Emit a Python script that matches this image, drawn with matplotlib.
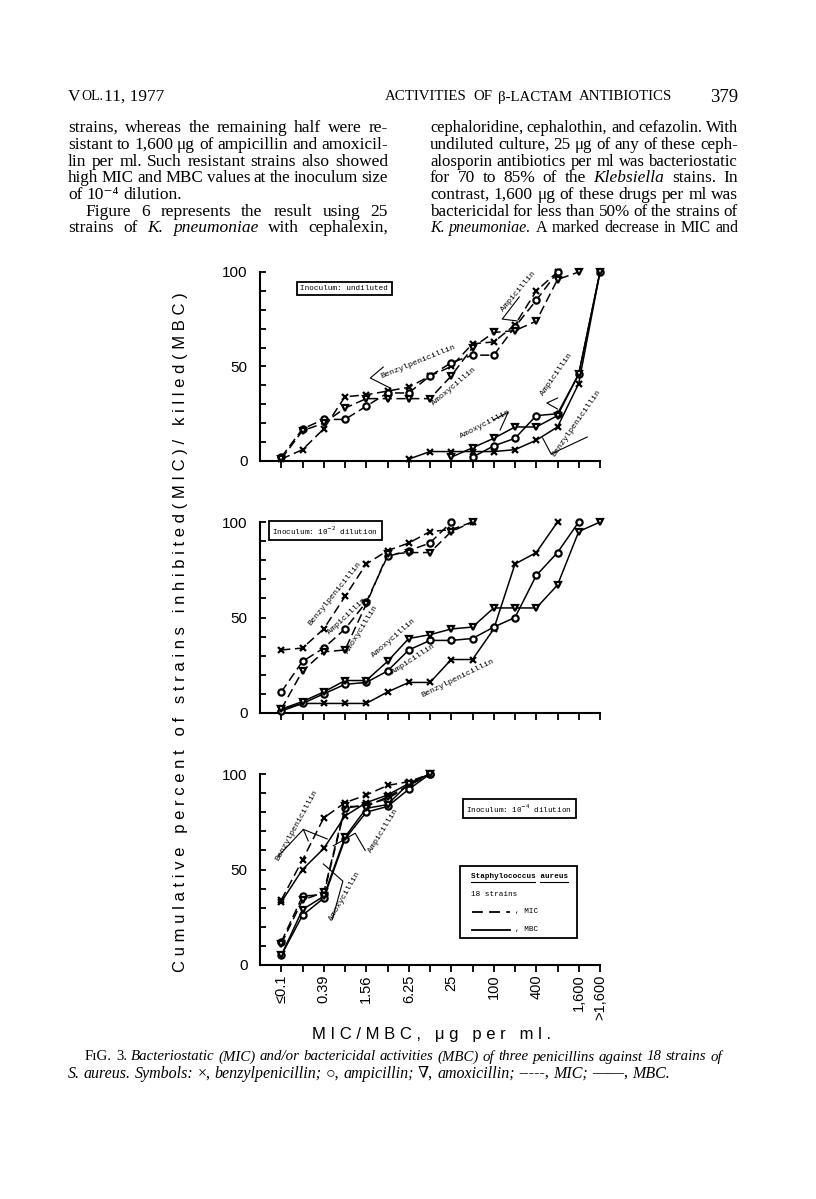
import numpy as np
import matplotlib.pyplot as plt
from matplotlib.lines import Line2D
from matplotlib.patches import Rectangle

# ---------------------------------------------------------
# data (cumulative % of 18 strains), index = concentration step
# ---------------------------------------------------------
nan = np.nan
conc_idx = np.arange(16)
tick_labels = ['\u22640.1', '', '0.39', '', '1.56', '', '6.25', '', '25', '',
               '100', '', '400', '', '1,600', '>1,600']

# undiluted
und_benzyl_mic = [1, 6, 17, 34, 35, 37, 39, 45, 50, 62, 63, 72, 90, 100, nan, nan]
und_ampi_mic = [2, 17, 22, 22, 29, 36, 36, 45, 52, 56, 56, 71, 85, 100, nan, nan]
und_amoxy_mic = [1, 16, 20, 28, 33, 33, 33, 33, 45, 60, 68, 69, 74, 96, 100, nan]
und_benzyl_mbc = [nan, nan, nan, nan, nan, nan, 1, 5, 5, 5, 5, 6, 11, 18, 41, 100]
und_ampi_mbc = [nan, nan, nan, nan, nan, nan, nan, nan, nan, 2, 8, 12, 24, 25, 46, 100]
und_amoxy_mbc = [nan, nan, nan, nan, nan, nan, nan, nan, 2, 7, 12, 18, 18, 24, 46, 100]

# 10^-2 dilution
d2_benzyl_mic = [33, 34, 44, 61, 78, 85, 89, 95, 96, 100, nan, nan, nan, nan, nan, nan]
d2_ampi_mic = [11, 27, 34, 44, 58, 82, 85, 89, 100, nan, nan, nan, nan, nan, nan, nan]
d2_amoxy_mic = [2, 22, 32, 33, 57, 83, 84, 84, 95, 100, nan, nan, nan, nan, nan, nan]
d2_benzyl_mbc = [2, 5, 5, 5, 5, 11, 16, 16, 28, 28, 44, 78, 84, 100, nan, nan]
d2_ampi_mbc = [1, 5, 10, 15, 16, 22, 33, 38, 38, 39, 45, 50, 72, 84, 100, nan]
d2_amoxy_mbc = [2, 6, 11, 17, 17, 27, 39, 41, 44, 45, 55, 55, 55, 67, 95, 100]

# 10^-4 dilution
d4_benzyl_mic = [34, 55, 77, 85, 89, 94, 96, 100] + [nan] * 8
d4_ampi_mic = [12, 36, 37, 82, 84, 87, 94, 100] + [nan] * 8
d4_amoxy_mic = [11, 34, 38, 83, 83, 88, 94, 100] + [nan] * 8
d4_benzyl_mbc = [33, 50, 61, 78, 85, 89, 95, 100] + [nan] * 8
d4_ampi_mbc = [5, 26, 35, 66, 80, 83, 92, 100] + [nan] * 8
d4_amoxy_mbc = [5, 29, 36, 67, 82, 84, 95, 100] + [nan] * 8

# ---------------------------------------------------------
# page setup
# ---------------------------------------------------------
W, H = 816, 1199
fig = plt.figure(figsize=(W / 100, H / 100), dpi=100)
fig.patch.set_facecolor('white')
renderer = fig.canvas.get_renderer()

SERIF = ['Liberation Serif', 'DejaVu Serif']
SANS = ['Liberation Sans', 'DejaVu Sans']
MONO = ['Liberation Mono', 'DejaVu Sans Mono']


def fx(x):
    return x / W


def fy(y):
    return 1 - y / H


def parse(line):
    # words wrapped in _..._ are italic
    out = []
    italic = False
    for w in line.split():
        if w.startswith('_'):
            italic = True
            w = w[1:]
        end = '_' in w
        w = w.replace('_', '')
        out.append((w, italic))
        if end:
            italic = False
    return out


def text_line(x0, y, line, x1=None, size=12.5, min_gap=3.5):
    words = parse(line)
    items = []
    for w, it in words:
        t = fig.text(0, fy(y), w, fontsize=size, family=SERIF,
                     style='italic' if it else 'normal', va='center', ha='left')
        items.append(t)
    # shrink the line until it fits (justified lines)
    while True:
        widths = [t.get_window_extent(renderer).width for t in items]
        if x1 is None or len(items) < 2:
            gap = size * 100 / 72 * 0.25
            break
        gap = (x1 - x0 - sum(widths)) / (len(items) - 1)
        if gap >= min_gap or size < 8:
            break
        size -= 0.25
        for t in items:
            t.set_fontsize(size)
    x = x0
    for t, w in zip(items, widths):
        t.set_x(fx(x))
        x += w + gap


# header
fig.text(fx(68), fy(97), 'V', fontsize=12.5, family=SERIF, va='center')
fig.text(fx(81), fy(97), 'OL.', fontsize=10, family=SERIF, va='center')
fig.text(fx(104), fy(97), '11, 1977', fontsize=12.5, family=SERIF, va='center')
text_line(385, 97, 'ACTIVITIES OF \u03b2-LACTAM ANTIBIOTICS', x1=672, size=12.5, min_gap=6)
fig.text(fx(738), fy(97), '379', fontsize=13.5, family=SERIF, va='center', ha='right')

# body text
left_col = [
    'strains, whereas the remaining half were re-',
    'sistant to 1,600 \u03bcg of ampicillin and amoxicil-',
    'lin per ml. Such resistant strains also showed',
    'high MIC and MBC values at the inoculum size',
    'of 10\u207b\u2074 dilution.',
    'Figure 6 represents the result using 25',
    'strains of _K. pneumoniae_ with cephalexin,',
]
right_col = [
    'cephaloridine, cephalothin, and cefazolin. With',
    'undiluted culture, 25 \u03bcg of any of these ceph-',
    'alosporin antibiotics per ml was bacteriostatic',
    'for 70 to 85% of the _Klebsiella_ stains. In',
    'contrast, 1,600 \u03bcg of these drugs per ml was',
    'bactericidal for less than 50% of the strains of',
    '_K. pneumoniae_. A marked decrease in MIC and',
]
line_y = [128, 145, 162, 178, 195, 212, 228]
for i, (ln, y) in enumerate(zip(left_col, line_y)):
    if i == 4:
        text_line(68, y, ln)
    elif i == 5:
        text_line(85, y, ln, x1=388)
    else:
        text_line(68, y, ln, x1=388)
for ln, y in zip(right_col, line_y):
    text_line(430, y, ln, x1=738)

# caption
text_line(85, 1057, 'F\u026aG. 3. _Bacteriostatic (MIC) and/or bactericidal activities '
          '(MBC) of three penicillins against 18 strains of_', x1=722, size=11.5)
text_line(68, 1074, '_S. aureus. Symbols:_ \u00d7, _benzylpenicillin;_ \u25cb, _ampicillin;_ '
          '\u2207, _amoxicillin;_ -----, _MIC;_ \u2014\u2014, _MBC._', size=11.5)

# ---------------------------------------------------------
# three panels
# ---------------------------------------------------------
panel_px = [(461, 272), (713, 522), (965, 774)]
panel_data = [
    (und_benzyl_mic, und_ampi_mic, und_amoxy_mic, und_benzyl_mbc, und_ampi_mbc, und_amoxy_mbc),
    (d2_benzyl_mic, d2_ampi_mic, d2_amoxy_mic, d2_benzyl_mbc, d2_ampi_mbc, d2_amoxy_mbc),
    (d4_benzyl_mic, d4_ampi_mic, d4_amoxy_mic, d4_benzyl_mbc, d4_ampi_mbc, d4_amoxy_mbc),
]
markers = ['x', 'o', 'v', 'x', 'o', 'v']
dashes = [(0, (6, 3))] * 3 + ['-'] * 3

axes = []
for k, ((y0, y100), series) in enumerate(zip(panel_px, panel_data)):
    ax = fig.add_axes([fx(260), fy(y0), (600 - 260) / W, (y0 - y100) / H])
    ax.set_xlim(-1, 15)
    ax.set_ylim(0, 100)
    ax.patch.set_alpha(0)
    for s in ['top', 'right']:
        ax.spines[s].set_visible(False)
    for s in ['left', 'bottom']:
        ax.spines[s].set_linewidth(1.5)
    ax.set_xticks(conc_idx)
    ax.set_yticks(np.arange(0, 101, 10))
    ax.set_yticklabels(['0', '', '', '', '', '50', '', '', '', '', '100'],
                       family=SANS, fontsize=11)
    if k == 2:
        ax.set_xticklabels(tick_labels, rotation=90, family=SANS, fontsize=10.5, va='top')
    else:
        ax.set_xticklabels([])
    ax.tick_params(axis='x', direction='out', length=5, width=1.3, pad=2)
    ax.tick_params(axis='y', direction='in', length=4, width=1.3, pad=9)

    for vals, m, ls in zip(series, markers, dashes):
        ax.plot(conc_idx, np.array(vals, dtype=float), linestyle=ls, color='black',
                lw=1.1, marker=m, ms=4.5 if m != 'x' else 4,
                mfc='white', mec='black', mew=1.6, clip_on=False, zorder=3)
    axes.append(ax)


def label(ax, x, y, s, rot, size=6):
    ax.text(x, y, s, rotation=rot, fontsize=size, family=MONO, ha='center',
            va='center', rotation_mode='anchor', zorder=4)


def pointer(ax, xs, ys):
    ax.plot(xs, ys, color='black', lw=0.8, clip_on=False, zorder=4)


def box(ax, x, y, s):
    ax.text(x, y, s, fontsize=5.5, family=MONO, ha='center', va='center',
            bbox=dict(boxstyle='square,pad=0.45', fc='white', ec='black', lw=1.3), zorder=5)


ax1, ax2, ax3 = axes
box(ax1, 2.96, 91.3, 'Inoculum: undiluted')
label(ax1, 6.45, 52.5, 'Benzylpenicillin', 22)
pointer(ax1, [4.8, 4.19, 5.13], [49.7, 43.9, 38.6])
label(ax1, 8.1, 39.5, 'Amoxycillin', 40)
label(ax1, 11.15, 89.4, 'Ampicillin', 50)
pointer(ax1, [11.2, 10.4, 11.1], [86.8, 75.1, 74.1])
label(ax1, 9.6, 19.6, 'Amoxycillin', 27)
pointer(ax1, [9.98, 10.68, 10.3], [21.7, 25.9, 16.4])
label(ax1, 12.95, 46, 'Ampicillin', 55)
pointer(ax1, [13.0, 12.5, 13.0], [33.3, 30.7, 27.5])
label(ax1, 13.9, 20.1, 'Benzylpenicillin', 55)
pointer(ax1, [12.3, 12.7, 14.4], [12.2, 3.7, 12.7])

box(ax2, 2.07, 95.5, 'Inoculum: 10$^{-2}$ dilution')
label(ax2, 2.54, 62.4, 'Benzylpenicillin', 51)
label(ax2, 3.1, 50.8, 'Ampicillin', 43)
label(ax2, 3.76, 43.4, 'Amoxycillin', 58)
label(ax2, 5.3, 39, 'Amoxycillin', 41)
label(ax2, 6.2, 28, 'Ampicillin', 33)
label(ax2, 8.3, 18, 'Benzylpenicillin', 26)

box(ax3, 11.2, 82, 'Inoculum: 10$^{-4}$ dilution')
label(ax3, 0.75, 73, 'Benzylpenicillin', 61)
pointer(ax3, [-0.14, 1.04, 2.16], [57, 71, 66])
pointer(ax3, [1.04, 1.27], [71, 65])
label(ax3, 4.8, 70, 'Ampicillin', 58)
pointer(ax3, [3.95, 3.48, 2.45], [60, 69, 62.4])
label(ax3, 3.0, 36, 'Amoxycillin', 60)
pointer(ax3, [2.4, 2.9, 1.98], [23.8, 43.9, 52.9])

# legend box in panel 3
fig.add_artist(Rectangle((fx(460), fy(938)), (577 - 460) / W, (938 - 866) / H,
                         transform=fig.transFigure, fc='white', ec='black', lw=1.3))
fig.text(fx(471), fy(877), 'Staphylococcus aureus', fontsize=5.5, family=MONO,
         weight='bold', va='center')
fig.add_artist(Line2D([fx(471), fx(535)], [fy(882), fy(882)], color='black', lw=0.8))
fig.add_artist(Line2D([fx(540), fx(568)], [fy(882), fy(882)], color='black', lw=0.8))
fig.text(fx(471), fy(894), '18 strains', fontsize=5.5, family=MONO, va='center')
fig.add_artist(Line2D([fx(472), fx(510)], [fy(912), fy(912)], color='black', lw=1.3,
                      linestyle=(0, (6, 3.5))))
fig.text(fx(515), fy(912), ', MIC', fontsize=5.5, family=MONO, va='center')
fig.add_artist(Line2D([fx(472), fx(510)], [fy(930), fy(930)], color='black', lw=1.3))
fig.text(fx(515), fy(930), ', MBC', fontsize=5.5, family=MONO, va='center')

# axis titles
fig.text(fx(181), fy(632),
         'C u m u l a t i v e   p e r c e n t   o f   s t r a i n s   '
         'i n h i b i t e d ( M I C ) /   k i l l e d ( M B C )',
         rotation=90, family=SANS, fontsize=12, ha='center', va='center')
fig.text(fx(432), fy(1035), 'M I C / M B C ,   \u03bc g   p e r   m l .',
         family=SANS, fontsize=12, ha='center', va='center')

plt.savefig('out.png', dpi=100)
